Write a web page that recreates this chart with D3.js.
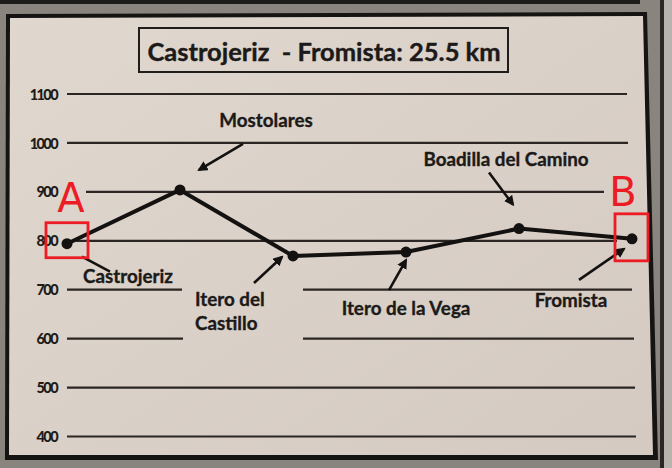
<!DOCTYPE html>
<html>
<head>
<meta charset="utf-8">
<script src="https://cdn.jsdelivr.net/npm/d3@7"></script>
<style>
  html, body { margin: 0; padding: 0; background: #857f79; }
  svg { display: block; }
</style>
</head>
<body>
<svg id="chart" width="672" height="468"></svg>
<script>
// ---- data ----
const title = "Castrojeriz  - Fromista: 25.5 km";
const categories = ["Castrojeriz", "Mostolares", "Itero del Castillo", "Itero de la Vega", "Boadilla del Camino", "Fromista"];
const elevations = [794, 904, 769, 777, 825, 804];
const yTicks = [400, 500, 600, 700, 800, 900, 1000, 1100];
const labelLines = [["Castrojeriz"], ["Mostolares"], ["Itero del", "Castillo"], ["Itero de la Vega"], ["Boadilla del Camino"], ["Fromista"]];
const markers = ["A", "B"];

// ---- layout ----
const svg = d3.select("#chart");
const FONT = "Lato, 'Open Sans', sans-serif";
const x = d3.scalePoint().domain(categories).range([67, 632]).padding(0);
const y = d3.scaleLinear().domain([400, 1100]).range([436.5, 94]);

// outer background / frame
svg.append("rect").attr("x", 0).attr("y", 0).attr("width", 672).attr("height", 468).attr("fill", "#8a847e");
svg.append("rect").attr("x", 0).attr("y", 0).attr("width", 640).attr("height", 4).attr("fill", "#1e1c1b");
svg.append("rect").attr("x", 660).attr("y", 0).attr("width", 4).attr("height", 468).attr("fill", "#2a2725");
svg.append("rect").attr("x", 664).attr("y", 0).attr("width", 8).attr("height", 468).attr("fill", "#b9b3ad");
svg.append("path")
  .attr("d", "M6,14 L647,12 L658,460 L5,460 Z")
  .attr("fill", "#161413");
const defs = svg.append("defs");
const grad = defs.append("linearGradient").attr("id", "paper").attr("x1", 0).attr("y1", 0).attr("x2", 1).attr("y2", 1);
grad.append("stop").attr("offset", "0%").attr("stop-color", "#e0d7ce");
grad.append("stop").attr("offset", "100%").attr("stop-color", "#d4cac1");
svg.append("path")
  .attr("d", "M10,18 L643,16 L653,455 L9,455 Z")
  .attr("fill", "url(#paper)");

// title box
svg.append("rect").attr("x", 139).attr("y", 28).attr("width", 369).attr("height", 44)
  .attr("fill", "none").attr("stroke", "#1f1c1a").attr("stroke-width", 2);
svg.append("text").attr("x", 324).attr("y", 61).attr("text-anchor", "middle")
  .attr("font-family", FONT).attr("font-weight", 700).attr("font-size", 25.5)
  .attr("fill", "#1c1a19").attr("stroke", "#1c1a19").attr("stroke-width", 0.4)
  .style("white-space", "pre")
  .text(title);

// gridlines (broken where labels sit)
const gridSegments = {
  1100: [[67, 627]],
  1000: [[67, 628]],
  900: [[86, 604]],
  800: [[76, 617]],
  700: [[67, 182], [303, 632]],
  600: [[67, 183], [303, 634]],
  500: [[67, 635]],
  400: [[67, 636]]
};
const grid = svg.append("g");
yTicks.forEach(t => {
  gridSegments[t].forEach(([a, b]) => {
    grid.append("line").attr("x1", a).attr("x2", b).attr("y1", y(t)).attr("y2", y(t))
      .attr("stroke", "#2b2623").attr("stroke-width", 2.2);
  });
});

// y axis labels
const yAxis = d3.axisLeft(y).tickValues(yTicks).tickFormat(d3.format("d")).tickSize(0).tickPadding(0);
const ga = svg.append("g").attr("transform", "translate(57,0)").call(yAxis);
ga.select(".domain").remove();
ga.selectAll("text").attr("font-family", FONT).attr("font-weight", 900).attr("font-size", 14.5)
  .attr("letter-spacing", -1.6).attr("fill", "#1f1c1a").attr("dy", "0.35em");

// profile line
const pts = categories.map((c, i) => [x(c), y(elevations[i])]);
svg.append("path").attr("d", d3.line()(pts)).attr("fill", "none")
  .attr("stroke", "#141211").attr("stroke-width", 4).attr("stroke-linejoin", "round");
svg.selectAll("circle.pt").data(pts).enter().append("circle")
  .attr("cx", d => d[0]).attr("cy", d => d[1]).attr("r", 5.5).attr("fill", "#141211");

// annotations: label position and arrow relative to each point
const annot = [
  { lx: 61, ly: 39, anchor: "middle", arrow: [[43, 28], [15, 13]], head: false },
  { lx: 86, ly: -63, anchor: "middle", arrow: [[63, -46], [19, -20]], head: true },
  { lx: -98, ly: 50, anchor: "start", arrow: [[-39, 27], [-11, 1]], head: true },
  { lx: 0, ly: 63, anchor: "middle", arrow: [[-17, 38], [0, 8]], head: true },
  { lx: -13, ly: -63, anchor: "middle", arrow: [[-30, -56], [-6, -24]], head: true },
  { lx: -61, ly: 68, anchor: "middle", arrow: [[-53, 41], [-8, 10]], head: true }
];
defs.append("marker").attr("id", "ah").attr("viewBox", "0 0 10 10").attr("refX", 8).attr("refY", 5)
  .attr("markerWidth", 4).attr("markerHeight", 4).attr("orient", "auto")
  .append("path").attr("d", "M0,0 L10,5 L0,10 Z").attr("fill", "#141211");

annot.forEach((a, i) => {
  const [px, py] = pts[i];
  const lines = labelLines[i];
  const t = svg.append("text").attr("x", px + a.lx).attr("y", py + a.ly)
    .attr("text-anchor", a.anchor).attr("font-family", FONT).attr("font-weight", 700)
    .attr("font-size", 18.8).attr("fill", "#1c1a19")
    .attr("stroke", "#1c1a19").attr("stroke-width", 0.35);
  lines.forEach((l, k) => t.append("tspan").attr("x", px + a.lx).attr("dy", k === 0 ? 0 : 24).text(l));
  const ln = svg.append("line")
    .attr("x1", px + a.arrow[0][0]).attr("y1", py + a.arrow[0][1])
    .attr("x2", px + a.arrow[1][0]).attr("y2", py + a.arrow[1][1])
    .attr("stroke", "#141211").attr("stroke-width", 2.6);
  if (a.head) ln.attr("marker-end", "url(#ah)");
});

// red hand-drawn markers at start and end
const red = "#ec1c24";
[0, categories.length - 1].forEach((idx, k) => {
  const [px, py] = pts[idx];
  svg.append("rect").attr("x", px - (k === 0 ? 21 : 17)).attr("y", py - (k === 0 ? 21 : 25))
    .attr("width", k === 0 ? 42 : 33).attr("height", k === 0 ? 35 : 47)
    .attr("fill", "none").attr("stroke", red).attr("stroke-width", 2.8);
  svg.append("text").attr("x", px + (k === 0 ? 4 : -9)).attr("y", py - (k === 0 ? 32 : 33))
    .attr("text-anchor", "middle").attr("font-family", "'DejaVu Sans', sans-serif")
    .attr("font-size", 40).attr("fill", red).text(markers[k]);
});
</script>
</body>
</html>
